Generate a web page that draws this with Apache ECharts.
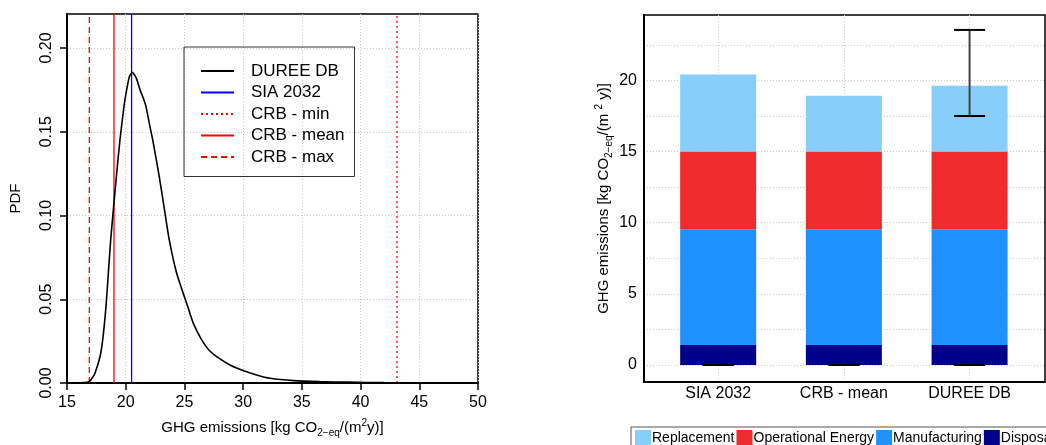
<!DOCTYPE html>
<html>
<head>
<meta charset="UTF-8">
<title>GHG emissions</title>
<script src="https://cdn.jsdelivr.net/npm/echarts@6/dist/echarts.min.js"></script>
<style>
  html, body { margin: 0; padding: 0; background: #fff; }
  #chart { width: 1046px; height: 445px; }
</style>
</head>
<body>
<div id="chart"></div>
<script>
// ---- left panel: density of DUREE DB ----
var pdfX = [15.5, 16.5, 16.9, 17.15, 17.38, 17.81, 18.04, 18.32, 18.52, 18.72, 18.92, 19.23, 19.51, 19.85, 20.08, 20.31, 20.56,
            20.9, 21.22, 21.5, 21.73, 22.01, 22.3, 22.81, 23.26, 23.71, 24.34, 25.28, 25.76, 26.47, 27.1, 27.75, 28.88, 29.87,
            31.15, 32.3, 34.3, 36.5, 39.0, 42.0, 45.0, 48.5];
var pdfY = [0, 0.0002, 0.001, 0.003, 0.0058, 0.0157, 0.0257, 0.0456, 0.0655, 0.0854, 0.1013, 0.1252, 0.1451, 0.165, 0.175, 0.1829, 0.1855,
            0.182, 0.175, 0.17, 0.165, 0.155, 0.1451, 0.1252, 0.1053, 0.0854, 0.0655, 0.0456, 0.0356, 0.0257, 0.0195, 0.0157, 0.0107, 0.0078,
            0.0048, 0.0028, 0.0014, 0.0008, 0.0005, 0.0002, 0.0001, 0];
var siaValue = 20.5;
var crbMin = 43.1, crbMean = 19.0, crbMax = 16.9;
var pdfTicks = [0, 0.05, 0.1, 0.15, 0.2];

// ---- right panel: stacked bars ----
var categories = ['SIA 2032', 'CRB - mean', 'DUREE DB'];
var disposal = [1.4, 1.4, 1.4];
var manufacturing = [8.13, 8.13, 8.13];
var operational = [5.47, 5.47, 5.47];
var replacement = [5.41, 3.92, 4.63];
// error bars: bar position, low, high
var errPos = [1, 2, 3, 3];
var errLow = [0, 0, 0, 17.5];
var errHigh = [0, 0, 0, 23.55];
var barLabelTicks = [0, 5, 10, 15, 20];
var barGridTicks = [0, 2.5, 5, 7.5, 10, 12.5, 15, 17.5, 20, 22.5];

var font = 'Liberation Sans';
var pdfYMax = 0.2203;

function pairs(xs, ys) {
    return xs.map(function (x, i) { return [x, ys[i]]; });
}
function vline(v) {
    return [[v, 0], [v, pdfYMax]];
}
// value first, position second (so the value column is the one stacked)
function atPos(vals) {
    return vals.map(function (v, i) { return [v, i + 1]; });
}

var richName = {
    t: { fontSize: 15, lineHeight: 20, color: '#000', fontFamily: font },
    sub: { fontSize: 10, lineHeight: 10, verticalAlign: 'bottom', color: '#000', fontFamily: font },
    sup: { fontSize: 10, lineHeight: 10, verticalAlign: 'top', color: '#000', fontFamily: font }
};

var dotted = { lineStyle: { color: '#c8c8c8', type: [1, 2], width: 1 } };

function barSeries(name, vals, color) {
    return {
        name: name, type: 'bar', stack: 'ghg', xAxisIndex: 1, yAxisIndex: 1,
        barWidth: 76, data: atPos(vals), encode: { x: 1, y: 0 },
        itemStyle: { color: color }
    };
}

var myChart = echarts.init(document.getElementById('chart'));
var option = {
    animation: false,
    textStyle: { fontFamily: font, color: '#000' },
    grid: [
        { left: 67, top: 14, right: 568, bottom: 62, show: true, borderColor: '#000', borderWidth: 1.5 },
        { left: 644, top: 15, right: 1, bottom: 63, show: true, borderColor: '#000', borderWidth: 1.5 }
    ],
    legend: [
        {
            data: ['DUREE DB', 'SIA 2032', 'CRB - min', 'CRB - mean', 'CRB - max'],
            orient: 'vertical', left: 184, top: 47,
            itemWidth: 33, itemHeight: 14, itemGap: 4.5,
            padding: [15.5, 10, 11, 16],
            borderColor: '#333', borderWidth: 1,
            itemStyle: { opacity: 0 },
            textStyle: { fontSize: 17, color: '#000', fontFamily: font, padding: [0, 0, 0, 12] }
        },
        {
            data: ['Replacement', 'Operational Energy', 'Manufacturing', 'Disposal'],
            orient: 'horizontal', left: 631, top: 427, width: 600,
            icon: 'rect', itemWidth: 16, itemHeight: 16, itemGap: 2,
            padding: [3, 4, 6, 4],
            borderColor: '#555', borderWidth: 1,
            textStyle: { fontSize: 14, color: '#000', fontFamily: font, padding: [0, 0, 0, -4] }
        }
    ],
    xAxis: [
        {
            gridIndex: 0, type: 'value', min: 15, max: 50, interval: 5,
            name: '{t|GHG emissions [kg CO}{sub|2\u2212eq}{t|/(m}{sup|2}{t|y)]}',
            nameLocation: 'middle', nameGap: 35,
            nameTextStyle: { rich: richName },
            axisLine: { lineStyle: { color: '#000', width: 2 } },
            axisTick: { length: 7, lineStyle: { color: '#000', width: 1.5 } },
            axisLabel: { fontSize: 16, color: '#000', margin: 12 },
            splitLine: dotted
        },
        {
            gridIndex: 1, type: 'value', min: 0.41, max: 3.6,
            axisLine: { onZero: false, lineStyle: { color: '#000', width: 2 } },
            axisTick: { show: false, customValues: [1, 2, 3] },
            axisLabel: {
                customValues: [1, 2, 3], fontSize: 16, color: '#000', margin: 4,
                formatter: function (v) { return categories[Math.round(v) - 1]; }
            },
            splitLine: { show: true, customValues: [1, 2, 3], lineStyle: dotted.lineStyle }
        }
    ],
    yAxis: [
        {
            gridIndex: 0, type: 'value', min: 0, max: pdfYMax,
            name: 'PDF', nameLocation: 'middle', nameGap: 44,
            nameTextStyle: { fontSize: 15, color: '#000' },
            axisLine: { lineStyle: { color: '#000', width: 2 } },
            axisTick: { length: 7, customValues: pdfTicks, lineStyle: { color: '#000', width: 1.5 } },
            axisLabel: {
                customValues: pdfTicks, rotate: 90, fontSize: 16, color: '#000', margin: 12,
                formatter: function (v) { return v.toFixed(2); }
            },
            splitLine: { show: true, customValues: pdfTicks, lineStyle: dotted.lineStyle }
        },
        {
            gridIndex: 1, type: 'value', min: -1.2, max: 24.6,
            name: '{t|GHG emissions [kg CO}{sub|2\u2212eq}{t|/(m }{sup|2}{t| y)]}',
            nameLocation: 'middle', nameGap: 30,
            nameTextStyle: { rich: richName },
            axisLine: { onZero: false, lineStyle: { color: '#000', width: 2 } },
            axisTick: { show: false, customValues: barGridTicks },
            axisLabel: { customValues: barLabelTicks, fontSize: 16, color: '#000', margin: 7 },
            splitLine: { show: true, customValues: barGridTicks, lineStyle: dotted.lineStyle }
        }
    ],
    series: [
        {
            name: 'DUREE DB', type: 'line', xAxisIndex: 0, yAxisIndex: 0,
            data: pairs(pdfX, pdfY), smooth: 0.2, symbol: 'none',
            lineStyle: { color: '#000', width: 1.6 }, itemStyle: { color: '#000' }, z: 5
        },
        {
            name: 'SIA 2032', type: 'line', xAxisIndex: 0, yAxisIndex: 0,
            data: vline(siaValue), symbol: 'none',
            lineStyle: { color: '#0000ff', width: 1.3 }, itemStyle: { color: '#0000ff' }
        },
        {
            name: 'CRB - min', type: 'line', xAxisIndex: 0, yAxisIndex: 0,
            data: vline(crbMin), symbol: 'none',
            lineStyle: { color: '#ff0000', width: 1.3, type: [2, 3] }, itemStyle: { color: '#ff0000' }
        },
        {
            name: 'CRB - mean', type: 'line', xAxisIndex: 0, yAxisIndex: 0,
            data: vline(crbMean), symbol: 'none',
            lineStyle: { color: '#ff0000', width: 1.3 }, itemStyle: { color: '#ff0000' }
        },
        {
            name: 'CRB - max', type: 'line', xAxisIndex: 0, yAxisIndex: 0,
            data: vline(crbMax), symbol: 'none',
            lineStyle: { color: '#ff0000', width: 1.3, type: [6, 4] }, itemStyle: { color: '#ff0000' }
        },
        barSeries('Disposal', disposal, '#00008b'),
        barSeries('Manufacturing', manufacturing, '#1e90ff'),
        barSeries('Operational Energy', operational, '#ee2c2c'),
        barSeries('Replacement', replacement, '#87cefa'),
        {
            // error bars
            type: 'custom', xAxisIndex: 1, yAxisIndex: 1, z: 10,
            data: errPos.map(function (p, i) { return [p, errLow[i], errHigh[i]]; }),
            encode: { x: 0, y: [1, 2] },
            renderItem: function (params, api) {
                var lo = api.coord([api.value(0), api.value(1)]);
                var hi = api.coord([api.value(0), api.value(2)]);
                var half = 15.5;
                return {
                    type: 'group',
                    children: [
                        { type: 'line', shape: { x1: lo[0], y1: lo[1], x2: hi[0], y2: hi[1] },
                          style: { stroke: '#444', lineWidth: 2 } },
                        { type: 'line', shape: { x1: hi[0] - half, y1: hi[1], x2: hi[0] + half, y2: hi[1] },
                          style: { stroke: '#000', lineWidth: 2 } },
                        { type: 'line', shape: { x1: lo[0] - half, y1: lo[1], x2: lo[0] + half, y2: lo[1] },
                          style: { stroke: '#000', lineWidth: 2 } }
                    ]
                };
            }
        }
    ]
};
myChart.setOption(option);
</script>
</body>
</html>
